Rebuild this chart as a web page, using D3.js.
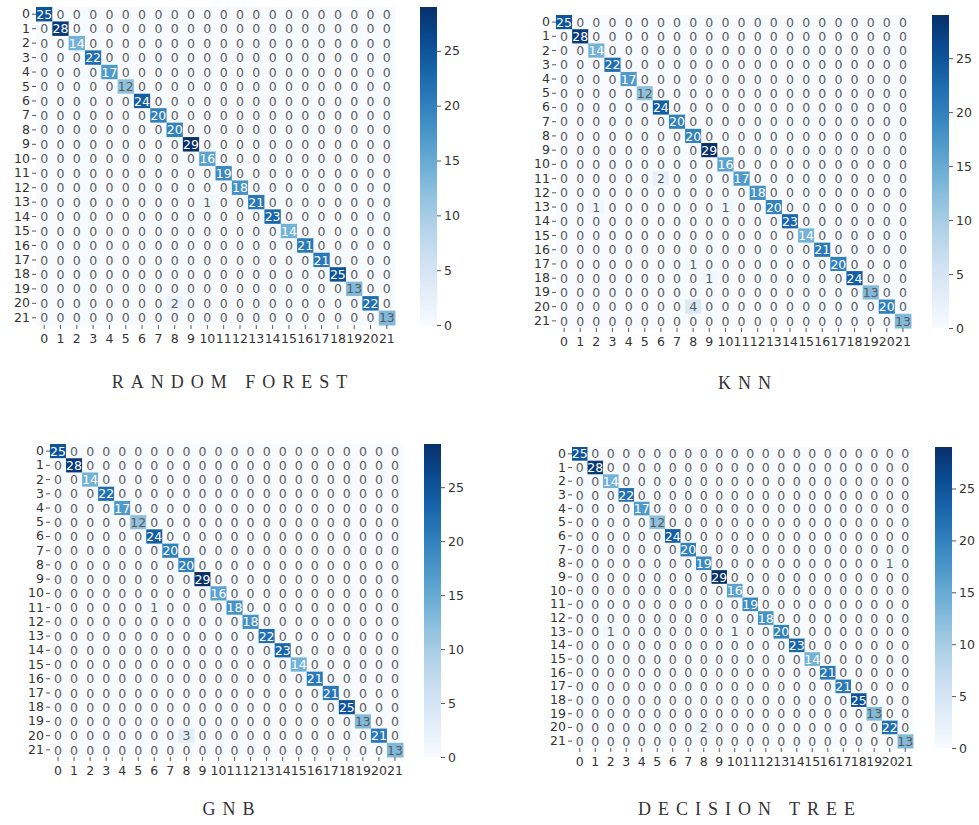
<!DOCTYPE html>
<html>
<head>
<meta charset="utf-8">
<script src="https://cdn.jsdelivr.net/npm/d3@7"></script>
<style>
  body { margin: 0; background: #fff; }
  svg { display: block; }
</style>
</head>
<body>
<svg id="chart" width="979" height="825"></svg>
<script>
// class labels 0..21
const classes = d3.range(22).map(String);
const cbarTicks = [0, 5, 10, 15, 20, 25];
const vmax = 29;

// diagonal (correct) counts per model
const rfDiag  = [25,28,14,22,17,12,24,20,20,29,16,19,18,21,23,14,21,21,25,13,22,13];
const knnDiag = [25,28,14,22,17,12,24,20,20,29,16,17,18,20,23,14,21,20,24,13,20,13];
const gnbDiag = [25,28,14,22,17,12,24,20,20,29,16,18,18,22,23,14,21,21,25,13,21,13];
const dtDiag  = [25,28,14,22,17,12,24,20,19,29,16,19,18,20,23,14,21,21,25,13,22,13];

// off diagonal cells: [row(true), col(pred), count]
const rfOff  = [[13,10,1],[20,8,2]];
const knnOff = [[11,6,2],[13,2,1],[13,10,1],[17,8,1],[18,9,1],[20,8,4]];
const gnbOff = [[11,6,1],[20,8,3]];
const dtOff  = [[8,20,1],[13,2,1],[13,10,1],[20,8,2]];

const titles = ["RANDOM FOREST", "KNN", "GNB", "DECISION TREE"];

function buildCells(diag, off){
  let cells = [];
  for(let i=0;i<diag.length;i++){
    for(let j=0;j<diag.length;j++){
      cells.push({row:i, col:j, value: i==j ? diag[i] : 0});
    }
  }
  off.forEach(([r,c,v]) => { cells[r*diag.length + c].value = v; });
  return cells;
}

const panels = [
  {cells: buildCells(rfDiag, rfOff),   x0:36,  y0:7,   x1:395, y1:325, cbx:420, title:titles[0], tx:233, ty:388},
  {cells: buildCells(knnDiag, knnOff), x0:556, y0:15,  x1:911, y1:328, cbx:932, title:titles[1], tx:748, ty:389},
  {cells: buildCells(gnbDiag, gnbOff), x0:50,  y0:444, x1:403, y1:757, cbx:424, title:titles[2], tx:232, ty:815},
  {cells: buildCells(dtDiag, dtOff),   x0:572, y0:447, x1:913, y1:748, cbx:935, title:titles[3], tx:750, ty:815}
];

const color = d3.scaleSequential(d3.interpolateBlues).domain([0, vmax]);

// same rule seaborn uses to pick annotation colour
function lum(c){
  const rgb = d3.rgb(c);
  const f = v => { v = v/255; return v <= 0.03928 ? v/12.92 : Math.pow((v+0.055)/1.055, 2.4); };
  return 0.2126*f(rgb.r) + 0.7152*f(rgb.g) + 0.0722*f(rgb.b);
}

const svg = d3.select("#chart");
const fontFam = "DejaVu Sans, sans-serif";

panels.forEach((p, k) => {
  const g = svg.append("g");
  const x = d3.scaleBand().domain(classes).range([p.x0, p.x1]);
  const y = d3.scaleBand().domain(classes).range([p.y0, p.y1]);

  g.selectAll("rect.cell")
    .data(p.cells)
    .join("rect")
    .attr("class","cell")
    .attr("x", d => x(String(d.col)))
    .attr("y", d => y(String(d.row)))
    .attr("width", x.bandwidth()+0.5)
    .attr("height", y.bandwidth()+0.5)
    .attr("fill", d => color(d.value));

  g.selectAll("text.annot")
    .data(p.cells)
    .join("text")
    .attr("class","annot")
    .attr("x", d => x(String(d.col)) + x.bandwidth()/2)
    .attr("y", d => y(String(d.row)) + y.bandwidth()/2)
    .attr("text-anchor","middle")
    .attr("dy","0.37em")
    .attr("font-family", fontFam)
    .attr("font-size", 12.5)
    .attr("fill", d => lum(color(d.value)) > 0.408 ? "#5a5a5a" : "#fff")
    .text(d => d.value);

  // axes
  const yAxis = g.append("g")
    .attr("transform", `translate(${p.x0},0)`)
    .call(d3.axisLeft(y).tickSize(4).tickPadding(2));
  const xAxis = g.append("g")
    .attr("transform", `translate(0,${p.y1})`)
    .call(d3.axisBottom(x).tickSize(4).tickPadding(5));
  [xAxis, yAxis].forEach(a => {
    a.select(".domain").remove();
    a.selectAll("text").attr("font-family", fontFam).attr("font-size", 12.5).attr("fill","#333");
    a.selectAll("line").attr("stroke","#444").attr("stroke-width",0.9);
  });

  // colorbar
  const gradId = "grad"+k;
  const grad = svg.append("defs").append("linearGradient")
    .attr("id", gradId).attr("x1","0").attr("y1","1").attr("x2","0").attr("y2","0");
  d3.range(0, 1.01, 0.1).forEach(t => {
    grad.append("stop").attr("offset", t).attr("stop-color", color(t*vmax));
  });
  const cbw = 17;
  const cy = d3.scaleLinear().domain([0, vmax]).range([p.y1, p.y0]);
  g.append("rect")
    .attr("x", p.cbx).attr("y", p.y0)
    .attr("width", cbw).attr("height", p.y1 - p.y0)
    .attr("fill", `url(#${gradId})`);
  const cAxis = g.append("g")
    .attr("transform", `translate(${p.cbx + cbw},0)`)
    .call(d3.axisRight(cy).tickValues(cbarTicks).tickSize(4).tickPadding(3));
  cAxis.select(".domain").remove();
  cAxis.selectAll("text").attr("font-family", fontFam).attr("font-size", 12.5).attr("fill","#333");
  cAxis.selectAll("line").attr("stroke","#444").attr("stroke-width",0.9);

  // title under the panel
  g.append("text")
    .attr("x", p.tx).attr("y", p.ty)
    .attr("text-anchor","middle")
    .attr("font-family","Liberation Serif, DejaVu Serif, serif")
    .attr("font-size", 18)
    .attr("letter-spacing", "7px")
    .attr("fill","#333")
    .text(p.title);
});
</script>
</body>
</html>
